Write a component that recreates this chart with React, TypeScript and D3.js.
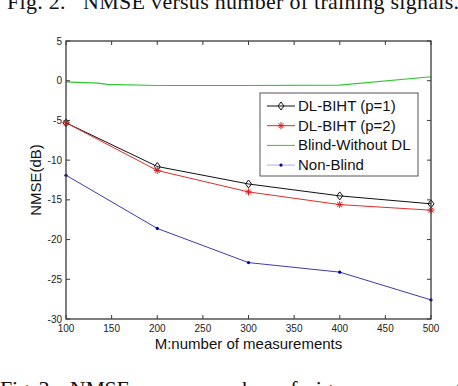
import React from 'react';
import * as d3 from 'd3';

const W = 458;
const H = 386;

// measurements on x axis
const measurements = [100, 200, 300, 400, 500];
const xTicks = [100, 150, 200, 250, 300, 350, 400, 450, 500];
const yTicks = [5, 0, -5, -10, -15, -20, -25, -30];

const dlBihtP1 = [-5.3, -10.8, -13.0, -14.5, -15.5];
const dlBihtP2 = [-5.3, -11.3, -14.0, -15.6, -16.3];
const nonBlind = [-11.9, -18.6, -22.9, -24.1, -27.6];

// green curve has more break points than the others
const blindX = [100, 135, 145, 200, 300, 400, 500];
const blindY = [-0.15, -0.3, -0.45, -0.6, -0.6, -0.55, 0.5];

const legendNames = ['DL-BIHT (p=1)', 'DL-BIHT (p=2)', 'Blind-Without DL', 'Non-Blind'];

const margin = { left: 66, right: 27, top: 41, bottom: 67 };

const App = () => {
  const x = d3.scaleLinear().domain([100, 500]).range([margin.left, W - margin.right]);
  const y = d3.scaleLinear().domain([-30, 5]).range([H - margin.bottom, margin.top]);

  const line = d3.line<[number, number]>()
    .x(d => x(d[0]))
    .y(d => y(d[1]));

  const zip = (xs: number[], ys: number[]) => xs.map((v, i) => [v, ys[i]] as [number, number]);

  const x0 = x(100), x1 = x(500), y0 = y(-30), y1 = y(5);
  const axisColor = '#3a3a3a';
  const tickLen = 4;

  const diamond = (cx: number, cy: number, key: string) => (
    <path key={key} d={`M${cx},${cy - 4}L${cx + 3},${cy}L${cx},${cy + 4}L${cx - 3},${cy}Z`}
      fill="none" stroke="#111" strokeWidth={1} />
  );
  const star = (cx: number, cy: number, key: string) => (
    <path key={key} d={`M${cx - 3.5},${cy}H${cx + 3.5}M${cx},${cy - 3.5}V${cy + 3.5}M${cx - 2.5},${cy - 2.5}L${cx + 2.5},${cy + 2.5}M${cx - 2.5},${cy + 2.5}L${cx + 2.5},${cy - 2.5}`}
      stroke="#e01818" strokeWidth={1} />
  );
  const dot = (cx: number, cy: number, key: string) => (
    <circle key={key} cx={cx} cy={cy} r={1.6} fill="#000090" />
  );

  const legendX = 260, legendY = 93, legendW = 158, legendH = 83;
  const rowY = (i: number) => legendY + 13 + i * 19.7;

  return (
    <svg width={W} height={H} style={{ position: 'absolute', left: 0, top: 0, background: '#fff' }}
      fontFamily="'Liberation Sans', Arial, sans-serif">
      <rect width={W} height={H} fill="#fff" />

      {/* captions, cut off by the picture edges */}
      <text x={7} y={9} fontFamily="'Liberation Serif', serif" fontSize={22} fill="#111"
        xmlSpace="preserve" textLength={452} lengthAdjust="spacing">
        Fig. 2.   NMSE versus number of training signals.
      </text>
      <text x={0} y={396} fontFamily="'Liberation Serif', serif" fontSize={22} fill="#111"
        xmlSpace="preserve" textLength={470} lengthAdjust="spacing">
        Fig. 3.   NMSE  versus  number  of  sign measurements
      </text>

      {/* series */}
      <path d={line(zip(blindX, blindY)) || ''} fill="none" stroke="#2ec82e" strokeWidth={1.2} />
      <path d={line(zip(measurements, nonBlind)) || ''} fill="none" stroke="#3b3bb0" strokeWidth={1} />
      <path d={line(zip(measurements, dlBihtP1)) || ''} fill="none" stroke="#111" strokeWidth={1} />
      <path d={line(zip(measurements, dlBihtP2)) || ''} fill="none" stroke="#e62a2a" strokeWidth={1} />
      {measurements.map((m, i) => dot(x(m), y(nonBlind[i]), 'n' + i))}
      {measurements.map((m, i) => diamond(x(m), y(dlBihtP1[i]), 'd' + i))}
      {measurements.map((m, i) => star(x(m), y(dlBihtP2[i]), 's' + i))}

      {/* box and ticks */}
      <rect x={x0} y={y1} width={x1 - x0} height={y0 - y1} fill="none" stroke={axisColor} strokeWidth={1.3} />
      {xTicks.map(t => (
        <g key={'xt' + t}>
          <line x1={x(t)} x2={x(t)} y1={y0} y2={y0 - tickLen} stroke={axisColor} />
          <line x1={x(t)} x2={x(t)} y1={y1} y2={y1 + tickLen} stroke={axisColor} />
          <text x={x(t)} y={y0 + 13} textAnchor="middle" fontSize={10} fill="#222">{t}</text>
        </g>
      ))}
      {yTicks.map(t => (
        <g key={'yt' + t}>
          <line x1={x0} x2={x0 + tickLen} y1={y(t)} y2={y(t)} stroke={axisColor} />
          <line x1={x1} x2={x1 - tickLen} y1={y(t)} y2={y(t)} stroke={axisColor} />
          <text x={x0 - 4} y={y(t) + 3.5} textAnchor="end" fontSize={10} fill="#222">{t}</text>
        </g>
      ))}

      {/* axis titles */}
      <text x={(x0 + x1) / 2} y={y0 + 30} textAnchor="middle" fontSize={15} fill="#111">
        M:number of measurements
      </text>
      <text transform={`translate(41,${(y0 + y1) / 2}) rotate(-90)`} textAnchor="middle" fontSize={15} fill="#111">
        NMSE(dB)
      </text>

      {/* legend */}
      <rect x={legendX} y={legendY} width={legendW} height={legendH} fill="#fff" stroke="#555" strokeWidth={1} />
      {legendNames.map((name, i) => {
        const cy = rowY(i);
        const colors = ['#111', '#e62a2a', '#2ec82e', '#aaaaf0'];
        return (
          <g key={name}>
            <line x1={legendX + 7} x2={legendX + 35} y1={cy} y2={cy} stroke={colors[i]} strokeWidth={1} />
            {i === 0 && diamond(legendX + 21, cy, 'ld')}
            {i === 1 && star(legendX + 21, cy, 'ls')}
            {i === 3 && dot(legendX + 21, cy, 'lo')}
            <text x={legendX + 38} y={cy + 5} fontSize={15} fill="#111">{name}</text>
          </g>
        );
      })}
    </svg>
  );
};

export default App;
